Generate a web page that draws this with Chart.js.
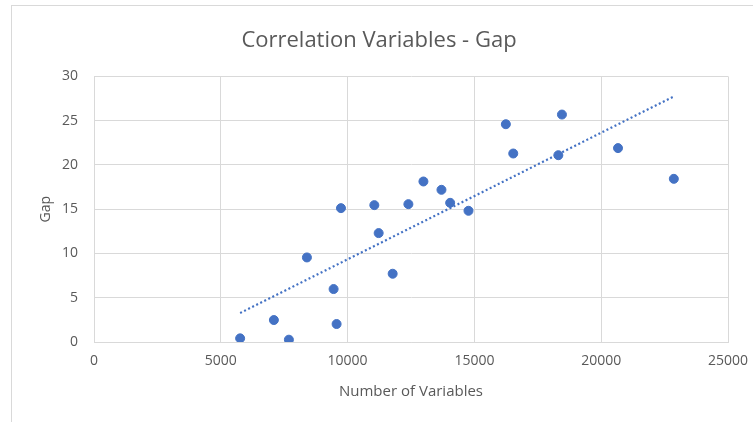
<!DOCTYPE html>
<html>
<head>
<meta charset="utf-8">
<script src="https://cdn.jsdelivr.net/npm/chart.js@4"></script>
<style>
  body { margin: 0; background: #fff; }
  #frame { position: absolute; left: 11px; top: 5px; width: 760px; height: 430px; border-left: 1px solid #d9d9d9; border-top: 1px solid #d9d9d9; }
  #wrap { position: absolute; left: 0; top: 0; width: 753px; height: 422px; }
</style>
</head>
<body>
<div id="frame"></div>
<div id="wrap"><canvas id="chart"></canvas></div>
<script>
// values
const variables = [5762, 7093, 7685, 8396, 9448, 9566, 9739, 11054, 11225, 11777, 12397,
                   12990, 13701, 14044, 14767, 16240, 16532, 18310, 18452, 20663, 22864];
const gaps = [0.41, 2.48, 0.26, 9.55, 5.98, 2.03, 15.12, 15.46, 12.3, 7.71, 15.57,
              18.13, 17.19, 15.72, 14.82, 24.6, 21.29, 21.1, 25.69, 21.9, 18.43];
const xTicks = [0, 5000, 10000, 15000, 20000, 25000];
const yTicks = [0, 5, 10, 15, 20, 25, 30];

const points = variables.map((v, i) => ({ x: v, y: gaps[i] }));

// linear trendline (least squares), like Excel's
const n = variables.length;
const mx = variables.reduce((a, b) => a + b, 0) / n;
const my = gaps.reduce((a, b) => a + b, 0) / n;
let sxy = 0, sxx = 0;
variables.forEach((v, i) => { sxy += (v - mx) * (gaps[i] - my); sxx += (v - mx) * (v - mx); });
const slope = sxy / sxx;
const icpt = my - slope * mx;
const xMin = Math.min(...variables), xMax = Math.max(...variables);
const trend = [{ x: xMin, y: icpt + slope * xMin }, { x: xMax, y: icpt + slope * xMax }];

const txt = '#595959';
const grid = '#d9d9d9';
const font = '"Open Sans", sans-serif';

new Chart(document.getElementById('chart'), {
    type: 'scatter',
    data: {
        datasets: [
            { label: 'Gap', data: points, backgroundColor: '#4472c4', borderColor: '#4472c4', pointRadius: 4.5, pointHoverRadius: 4.5, order: 1 },
            { label: 'Trend', data: trend, showLine: true, borderColor: '#4472c4', borderWidth: 2.2, borderDash: [2, 2.5], pointRadius: 0, fill: false, order: 2 }
        ]
    },
    options: {
        responsive: true,
        maintainAspectRatio: false,
        animation: false,
        layout: { padding: { left: 30, right: 25, top: 8, bottom: 14 } },
        plugins: {
            legend: { display: false },
            tooltip: { enabled: false },
            title: {
                display: true,
                text: 'Correlation Variables - Gap',
                color: txt,
                font: { family: font, size: 22, weight: 'normal' },
                padding: { top: 20, bottom: 22 }
            }
        },
        scales: {
            x: {
                type: 'linear', min: 0, max: 25000,
                afterBuildTicks: s => { s.ticks = xTicks.map(v => ({ value: v })); },
                afterFit: s => { s.height = 66; s.paddingLeft = 0; s.paddingRight = 0; },
                ticks: { color: txt, font: { family: font, size: 14 }, padding: 11, callback: v => String(v) },
                grid: { color: grid, drawTicks: false },
                border: { color: grid },
                title: { display: true, text: 'Number of Variables', color: txt, font: { family: font, size: 15 }, padding: { top: 0, bottom: 7 } }
            },
            y: {
                type: 'linear', min: 0, max: 30,
                afterBuildTicks: s => { s.ticks = yTicks.map(v => ({ value: v })); },
                afterFit: s => { s.width = 64; s.paddingTop = 0; s.paddingBottom = 0; },
                ticks: { color: txt, font: { family: font, size: 14 }, padding: 16 },
                grid: { color: grid, drawTicks: false },
                border: { color: grid },
                title: { display: true, text: 'Gap', color: txt, font: { family: font, size: 14 }, padding: { top: 8, bottom: 0 } }
            }
        }
    }
});
</script>
</body>
</html>
